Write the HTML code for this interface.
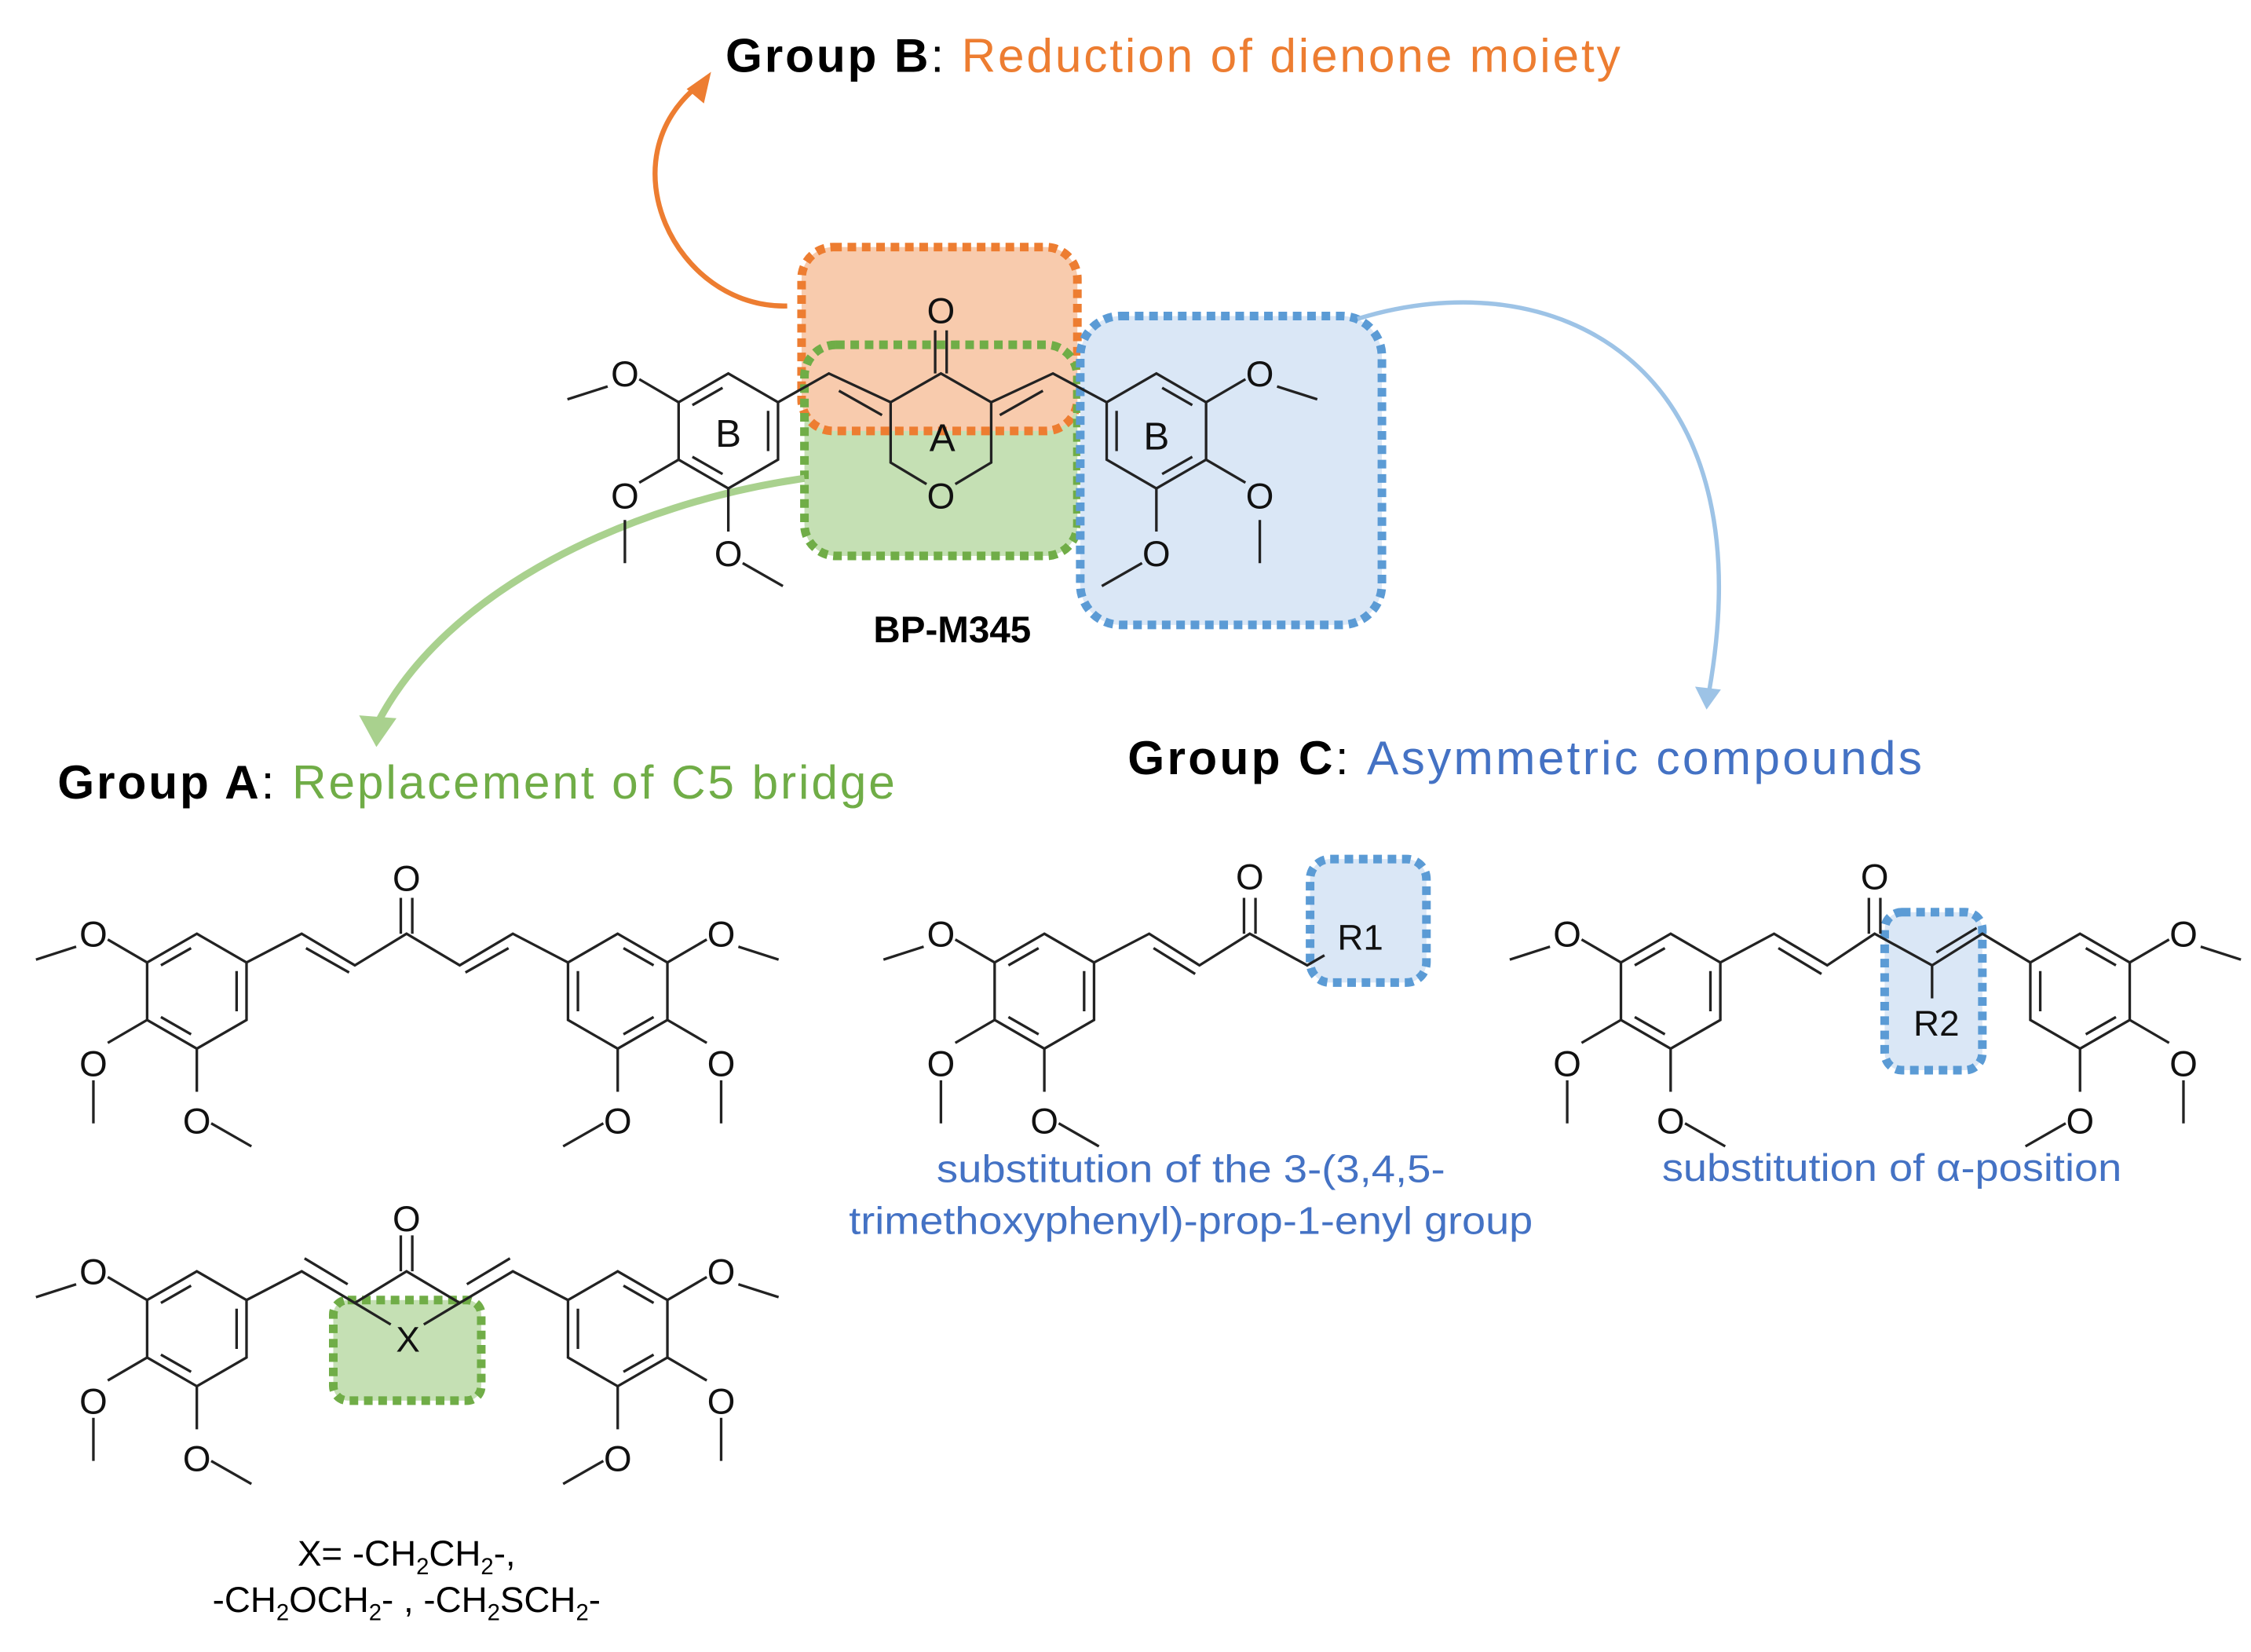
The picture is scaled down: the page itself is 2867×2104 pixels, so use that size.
<!DOCTYPE html>
<html><head><meta charset="utf-8"><style>
html,body{margin:0;padding:0;background:#fff}
svg{display:block}
text{font-family:"Liberation Sans",Arial,sans-serif}
</style></head><body>
<svg width="2867" height="2104" viewBox="0 0 1567 1150" xmlns="http://www.w3.org/2000/svg">
<!-- highlight boxes -->
<rect x="560" y="240" width="190" height="147" rx="22" fill="#c5e0b4"/>
<rect x="558" y="172" width="192" height="128" rx="22" fill="#f8cbad"/>
<rect x="558" y="172" width="192" height="128" rx="22" fill="none" stroke="#ed7d31" stroke-width="6" stroke-dasharray="6 4"/>
<rect x="560" y="240" width="190" height="147" rx="22" fill="none" stroke="#70ad47" stroke-width="6" stroke-dasharray="6 4"/>
<rect x="752" y="220" width="210" height="215" rx="28" fill="#dae7f6" stroke="#5b9bd5" stroke-width="6" stroke-dasharray="6 4"/>
<rect x="232" y="905" width="103" height="70" rx="10" fill="#c5e0b4" stroke="#70ad47" stroke-width="6" stroke-dasharray="6 4"/>
<rect x="912" y="598" width="81" height="86" rx="14" fill="#dae7f6" stroke="#5b9bd5" stroke-width="6" stroke-dasharray="6 4"/>
<rect x="1312" y="635" width="68" height="110" rx="12" fill="#dae7f6" stroke="#5b9bd5" stroke-width="6" stroke-dasharray="6 4"/>

<!-- arrows -->
<path d="M548,213 C470,215 420,110 488,58" fill="none" stroke="#ed7d31" stroke-width="3.5"/>
<path d="M478,62 L495,50 L490,72 Z" fill="#ed7d31"/>
<path d="M560,333 C440,350 310,410 262,505" fill="none" stroke="#a9d18e" stroke-width="5"/>
<path d="M250,498 L262,520 L276,500 Z" fill="#a9d18e"/>
<path d="M945,222 C1080,180 1230,250 1190,480" fill="none" stroke="#9dc3e6" stroke-width="3"/>
<path d="M1180,478 L1188,494 L1198,480 Z" fill="#9dc3e6"/>

<g stroke="#222" stroke-width="1.8" fill="none">
<path d="M541.6,280 L577,260 L620,280 L655,260 L690,280 L733,260 L770.4,280"/>
<path d="M584,272 L614,289 M696,289 L726,272"/>
<path d="M620,280 L620,322 L645,337 M665,337 L690,322 L690,280"/>
<path d="M651,260 L651,230 M659,260 L659,230"/>
<path d="M171.6,670 L210,650 L247,672 L283,650 L320,672 L357,650 L395.4,670"/>
<path d="M213,660 L243,677 M324,677 L354,660"/>
<path d="M279,650 L279,625 M287,650 L287,625"/>
<path d="M171.6,905 L210,885 L247,907 L283,885 L320,907 L357,885 L395.4,905"/>
<path d="M212,876 L242,894 M325,894 L355,876"/>
<path d="M247,907 L272,922 M295,922 L320,907"/>
<path d="M279,885 L279,860 M287,885 L287,860"/>
<path d="M761.6,670 L800,650 L835,672 L870,650 L910,672 L922,665"/>
<path d="M803,660 L832,678"/>
<path d="M866,650 L866,625 M874,650 L874,625"/>
<path d="M1197.6,670 L1235,650 L1272,672 L1305,650 L1345,672 L1380,650 L1413.4,670"/>
<path d="M1238,660 L1268,678 M1348,663 L1376,646"/>
<path d="M1301,650 L1301,625 M1309,650 L1309,625"/>
<path d="M1345,672 L1345,695"/>
</g>

<g transform="translate(507,300)" stroke="#222" stroke-width="1.8" fill="none">
<path d="M0,-40 L34.6,-20 L34.6,20 L0,40 L-34.6,20 L-34.6,-20 Z"/>
<path d="M27.7,-14 L27.7,14 M-4,30 L-25,18 M-25,-18 L-4,-30"/>
<path d="M-34.6,-20 L-62,-36 M-84,-31 L-112,-22 M-34.6,20 L-62,36 M-72,62 L-72,92 M0,40 L0,70 M10,92 L38,108"/>
</g>
<g transform="translate(805,300) scale(-1,1)" stroke="#222" stroke-width="1.8" fill="none">
<path d="M0,-40 L34.6,-20 L34.6,20 L0,40 L-34.6,20 L-34.6,-20 Z"/>
<path d="M27.7,-14 L27.7,14 M-4,30 L-25,18 M-25,-18 L-4,-30"/>
<path d="M-34.6,-20 L-62,-36 M-84,-31 L-112,-22 M-34.6,20 L-62,36 M-72,62 L-72,92 M0,40 L0,70 M10,92 L38,108"/>
</g>
<g transform="translate(137,690)" stroke="#222" stroke-width="1.8" fill="none">
<path d="M0,-40 L34.6,-20 L34.6,20 L0,40 L-34.6,20 L-34.6,-20 Z"/>
<path d="M27.7,-14 L27.7,14 M-4,30 L-25,18 M-25,-18 L-4,-30"/>
<path d="M-34.6,-20 L-62,-36 M-84,-31 L-112,-22 M-34.6,20 L-62,36 M-72,62 L-72,92 M0,40 L0,70 M10,92 L38,108"/>
</g>
<g transform="translate(430,690) scale(-1,1)" stroke="#222" stroke-width="1.8" fill="none">
<path d="M0,-40 L34.6,-20 L34.6,20 L0,40 L-34.6,20 L-34.6,-20 Z"/>
<path d="M27.7,-14 L27.7,14 M-4,30 L-25,18 M-25,-18 L-4,-30"/>
<path d="M-34.6,-20 L-62,-36 M-84,-31 L-112,-22 M-34.6,20 L-62,36 M-72,62 L-72,92 M0,40 L0,70 M10,92 L38,108"/>
</g>
<g transform="translate(137,925)" stroke="#222" stroke-width="1.8" fill="none">
<path d="M0,-40 L34.6,-20 L34.6,20 L0,40 L-34.6,20 L-34.6,-20 Z"/>
<path d="M27.7,-14 L27.7,14 M-4,30 L-25,18 M-25,-18 L-4,-30"/>
<path d="M-34.6,-20 L-62,-36 M-84,-31 L-112,-22 M-34.6,20 L-62,36 M-72,62 L-72,92 M0,40 L0,70 M10,92 L38,108"/>
</g>
<g transform="translate(430,925) scale(-1,1)" stroke="#222" stroke-width="1.8" fill="none">
<path d="M0,-40 L34.6,-20 L34.6,20 L0,40 L-34.6,20 L-34.6,-20 Z"/>
<path d="M27.7,-14 L27.7,14 M-4,30 L-25,18 M-25,-18 L-4,-30"/>
<path d="M-34.6,-20 L-62,-36 M-84,-31 L-112,-22 M-34.6,20 L-62,36 M-72,62 L-72,92 M0,40 L0,70 M10,92 L38,108"/>
</g>
<g transform="translate(727,690)" stroke="#222" stroke-width="1.8" fill="none">
<path d="M0,-40 L34.6,-20 L34.6,20 L0,40 L-34.6,20 L-34.6,-20 Z"/>
<path d="M27.7,-14 L27.7,14 M-4,30 L-25,18 M-25,-18 L-4,-30"/>
<path d="M-34.6,-20 L-62,-36 M-84,-31 L-112,-22 M-34.6,20 L-62,36 M-72,62 L-72,92 M0,40 L0,70 M10,92 L38,108"/>
</g>
<g transform="translate(1163,690)" stroke="#222" stroke-width="1.8" fill="none">
<path d="M0,-40 L34.6,-20 L34.6,20 L0,40 L-34.6,20 L-34.6,-20 Z"/>
<path d="M27.7,-14 L27.7,14 M-4,30 L-25,18 M-25,-18 L-4,-30"/>
<path d="M-34.6,-20 L-62,-36 M-84,-31 L-112,-22 M-34.6,20 L-62,36 M-72,62 L-72,92 M0,40 L0,70 M10,92 L38,108"/>
</g>
<g transform="translate(1448,690) scale(-1,1)" stroke="#222" stroke-width="1.8" fill="none">
<path d="M0,-40 L34.6,-20 L34.6,20 L0,40 L-34.6,20 L-34.6,-20 Z"/>
<path d="M27.7,-14 L27.7,14 M-4,30 L-25,18 M-25,-18 L-4,-30"/>
<path d="M-34.6,-20 L-62,-36 M-84,-31 L-112,-22 M-34.6,20 L-62,36 M-72,62 L-72,92 M0,40 L0,70 M10,92 L38,108"/>
</g>

<g font-size="25" fill="#111" text-anchor="middle">
<text x="435" y="269">O</text><text x="435" y="354">O</text><text x="507" y="394">O</text>
<text x="877" y="269">O</text><text x="877" y="354">O</text><text x="805" y="394">O</text>
<text x="655" y="225">O</text><text x="655" y="354">O</text>
<text x="507" y="311" font-size="27">B</text><text x="805" y="313" font-size="27">B</text><text x="656" y="314" font-size="27">A</text>
<text x="65" y="659">O</text><text x="65" y="749">O</text><text x="137" y="789">O</text>
<text x="502" y="659">O</text><text x="502" y="749">O</text><text x="430" y="789">O</text>
<text x="283" y="620">O</text>
<text x="65" y="894">O</text><text x="65" y="984">O</text><text x="137" y="1024">O</text>
<text x="502" y="894">O</text><text x="502" y="984">O</text><text x="430" y="1024">O</text>
<text x="283" y="857">O</text><text x="284" y="941">X</text>
<text x="655" y="659">O</text><text x="655" y="749">O</text><text x="727" y="789">O</text>
<text x="870" y="619">O</text><text x="947" y="661">R1</text>
<text x="1091" y="659">O</text><text x="1091" y="749">O</text><text x="1163" y="789">O</text>
<text x="1520" y="659">O</text><text x="1520" y="749">O</text><text x="1448" y="789">O</text>
<text x="1305" y="619">O</text><text x="1348" y="721">R2</text>
</g>

<text x="505" y="50" font-size="33" fill="#000" textLength="623" lengthAdjust="spacing"><tspan font-weight="bold">Group  B</tspan>: <tspan fill="#ed7d31">Reduction of dienone moiety</tspan></text>
<text x="40" y="556" font-size="33" fill="#000" textLength="583" lengthAdjust="spacing"><tspan font-weight="bold">Group  A</tspan>: <tspan fill="#70ad47">Replacement of C5 bridge</tspan></text>
<text x="785" y="539" font-size="33" fill="#000" textLength="553" lengthAdjust="spacing"><tspan font-weight="bold">Group  C</tspan>: <tspan fill="#4472c4">Asymmetric compounds</tspan></text>
<text x="608" y="447" font-size="26" font-weight="bold" fill="#000">BP-M345</text>

<g font-size="27" fill="#4472c4" text-anchor="middle">
<text x="829" y="823" textLength="354" lengthAdjust="spacingAndGlyphs">substitution of the 3-(3,4,5-</text>
<text x="829" y="859" textLength="476" lengthAdjust="spacingAndGlyphs">trimethoxyphenyl)-prop-1-enyl group</text>
<text x="1317" y="822" textLength="320" lengthAdjust="spacingAndGlyphs">substitution of α-position</text>
</g>
<g font-size="25" fill="#000" text-anchor="middle">
<text x="283" y="1090">X= -CH<tspan font-size="16" dy="6">2</tspan><tspan dy="-6">CH</tspan><tspan font-size="16" dy="6">2</tspan><tspan dy="-6">-,</tspan></text>
<text x="283" y="1122">-CH<tspan font-size="16" dy="6">2</tspan><tspan dy="-6">OCH</tspan><tspan font-size="16" dy="6">2</tspan><tspan dy="-6">- , -CH</tspan><tspan font-size="16" dy="6">2</tspan><tspan dy="-6">SCH</tspan><tspan font-size="16" dy="6">2</tspan><tspan dy="-6">-</tspan></text>
</g>
</svg>
</body></html>
